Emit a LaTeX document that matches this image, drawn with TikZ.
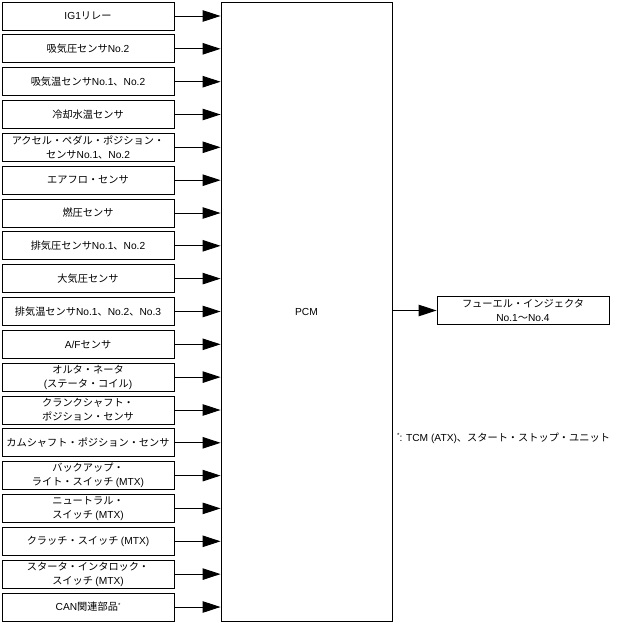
\documentclass[tikz,border=0pt]{standalone}
\usepackage{fontspec}
\setmainfont{Noto Sans CJK JP}
\newfontfamily\latfont{Liberation Sans}
\newcommand{\lat}[1]{{\latfont #1}}
\newcommand{\myast}{\raisebox{3.5pt}{\latfont\fontsize{6}{6}\selectfont *}}
\usetikzlibrary{arrows.meta}
\begin{document}
\begin{tikzpicture}[x=1pt,y=-1pt,
  inbox/.style={draw, line width=0.9pt, minimum width=172pt, minimum height=28pt, inner sep=0pt, align=center, font=\fontsize{10.2}{14}\selectfont},
  conn/.style={line width=0.9pt, -{Triangle[length=18pt,width=11.5pt]}}]
\useasboundingbox (0,0) rectangle (616,624);
\node[inbox] (b1) at (88,16) {\lat{IG1}リレー};
\node[inbox] (b2) at (88,48.8) {吸気圧センサ\lat{No.2}};
\node[inbox] (b3) at (88,81.7) {吸気温センサ\lat{No.1}、\lat{No.2}};
\node[inbox] (b4) at (88,114.5) {冷却水温センサ};
\node[inbox] (b5) at (88,147.3) {アクセル・ペダル・ポジション・\\センサ\lat{No.1}、\lat{No.2}};
\node[inbox] (b6) at (88,180.2) {エアフロ・センサ};
\node[inbox] (b7) at (88,213) {燃圧センサ};
\node[inbox] (b8) at (88,245.8) {排気圧センサ\lat{No.1}、\lat{No.2}};
\node[inbox] (b9) at (88,278.6) {大気圧センサ};
\node[inbox] (b10) at (88,311.5) {排気温センサ\lat{No.1}、\lat{No.2}、\lat{No.3}};
\node[inbox] (b11) at (88,344.3) {\lat{A/F}センサ};
\node[inbox] (b12) at (88,377.1) {オルタ・ネータ\\\lat{(}ステータ・コイル\lat{)}};
\node[inbox] (b13) at (88,410) {クランクシャフト・\\ポジション・センサ};
\node[inbox] (b14) at (88,442.8) {カムシャフト・ポジション・センサ};
\node[inbox] (b15) at (88,475.6) {バックアップ・\\ライト・スイッチ \lat{(MTX)}};
\node[inbox] (b16) at (88,508.4) {ニュートラル・\\スイッチ \lat{(MTX)}};
\node[inbox] (b17) at (88,541.3) {クラッチ・スイッチ \lat{(MTX)}};
\node[inbox] (b18) at (88,574.1) {スタータ・インタロック・\\スイッチ \lat{(MTX)}};
\node[inbox] (b19) at (88,607) {\lat{CAN}関連部品\myast};
\node[draw, line width=0.9pt, minimum width=171pt, minimum height=619pt, inner sep=0pt, font=\latfont\fontsize{10.2}{14}\selectfont] (pcm) at (306.5,311.5) {PCM};
\node[inbox] (inj) at (523,310.5) {フューエル・インジェクタ\\\lat{No.1}〜\lat{No.4}};
\node[anchor=west, inner sep=0pt, font=\fontsize{10.2}{14}\selectfont] (note) at (397,438) {\myast\lat{: TCM (ATX)}、スタート・ストップ・ユニット};
\foreach \i in {1,...,19} {
  \draw[conn] (b\i.east) -- (b\i.east -| pcm.west);
}
\draw[conn] (inj.west -| pcm.east) -- (inj.west);
\end{tikzpicture}
\end{document}
